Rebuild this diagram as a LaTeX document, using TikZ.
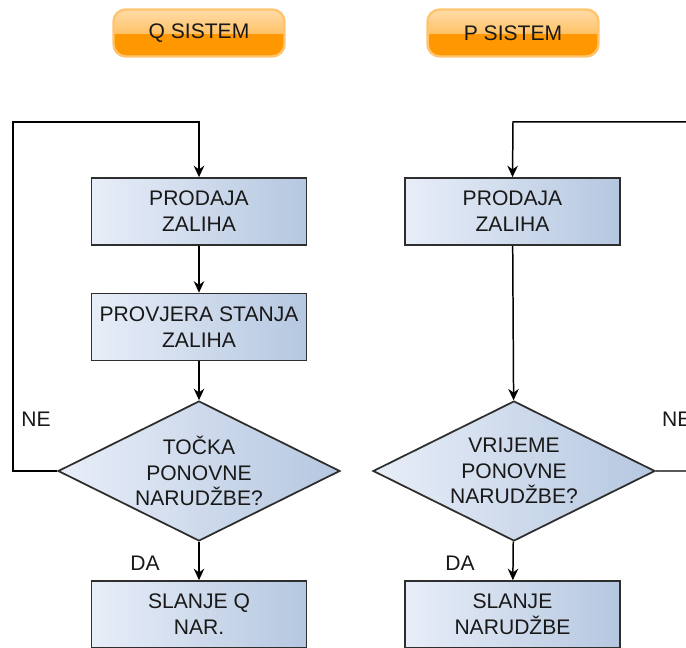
\documentclass[tikz,border=0pt]{standalone}
\usepackage{fontspec}
\setmainfont{Liberation Sans}
\usetikzlibrary{arrows.meta, positioning, shapes.geometric}
\definecolor{boxLeft}{HTML}{E8EEF8}
\definecolor{boxRight}{HTML}{B5C7E0}
\definecolor{boxLine}{HTML}{2E2E2E}
\definecolor{btnTop}{HTML}{FFDCA8}
\definecolor{btnMid}{HTML}{FFC268}
\definecolor{btnBot}{HTML}{FF9800}
\definecolor{btnLine}{HTML}{FFC470}
\pgfdeclareverticalshading{gumbsjaj}{100bp}{color(0bp)=(btnBot); color(25bp)=(btnBot);
  color(49bp)=(btnBot); color(50bp)=(btnMid); color(75bp)=(btnTop); color(100bp)=(btnTop)}

\tikzset{
  tekst/.style={font=\fontsize{12}{14.7}\selectfont, text=black!90, align=center},
  korak/.style={tekst, draw=boxLine, line width=1pt, left color=boxLeft, right color=boxRight,
    minimum width=4.3cm, minimum height=1.34cm, inner sep=0pt},
  odluka/.style={tekst, diamond, aspect=2.03, draw=boxLine, line width=1pt, left color=boxLeft,
    right color=boxRight, minimum width=5.64cm, minimum height=2.8cm, inner sep=0pt},
  gumb/.style={tekst, rounded corners=7pt, draw=btnLine, line width=1.4pt, shading=gumbsjaj,
    minimum width=3.42cm, minimum height=0.94cm},
  tok/.style={line width=0.85pt, -{Stealth[length=6.5pt, width=6pt]}},
  oznaka/.style={tekst, inner sep=1pt}
}

\begin{document}
\begin{tikzpicture}[x=0.02cm, y=-0.02cm]
  \useasboundingbox (0,0) rectangle (686,648);
  \clip (0,0) rectangle (686,648);

  % naslovi
  \node[gumb] (qnaslov) at (199,33) {Q SISTEM};
  \node[gumb] (pnaslov) at (513,33) {P SISTEM};

  % Q sistem
  \node[korak] (qprodaja) at (199,211.5) {PRODAJA\\ZALIHA};
  \node[korak] (qprovjera) at (199,327) {PROVJERA STANJA\\ZALIHA};
  \node[odluka] (qodluka) at (199,471) {TOČKA\\PONOVNE\\NARUDŽBE?};
  \node[korak] (qslanje) at (199,614.5) {SLANJE Q\\NAR.};
  \coordinate (qlijevo) at (13,122);
  \coordinate (qvrh) at (199,122);
  \draw[tok] (qodluka.west) -| (qlijevo) -- (qvrh) -- (qprodaja.north);
  \draw[tok] (qprodaja) -- (qprovjera);
  \draw[tok] (qprovjera) -- (qodluka);
  \draw[tok] (qodluka) -- (qslanje);
  \node[oznaka] (qne) at (36,419) {NE};
  \node[oznaka] (qda) at (145,563) {DA};

  % P sistem
  \node[korak] (pprodaja) at (512.5,211.5) {PRODAJA\\ZALIHA};
  \node[odluka] (podluka) at (514,471) {VRIJEME\\PONOVNE\\NARUDŽBE?};
  \node[korak] (pslanje) at (512.5,614.5) {SLANJE\\NARUDŽBE};
  \coordinate (pdesno) at (720,122);
  \coordinate (pvrh) at (513,122);
  \draw[tok] (podluka.east) -| (pdesno) -- (pvrh) -- (pprodaja.north);
  \draw[tok] (pprodaja) -- (podluka);
  \draw[tok] (podluka) -- (pslanje);
  \node[oznaka, anchor=west] (pne) at (660,419) {NE};
  \node[oznaka] (pda) at (460,563) {DA};
\end{tikzpicture}
\end{document}
